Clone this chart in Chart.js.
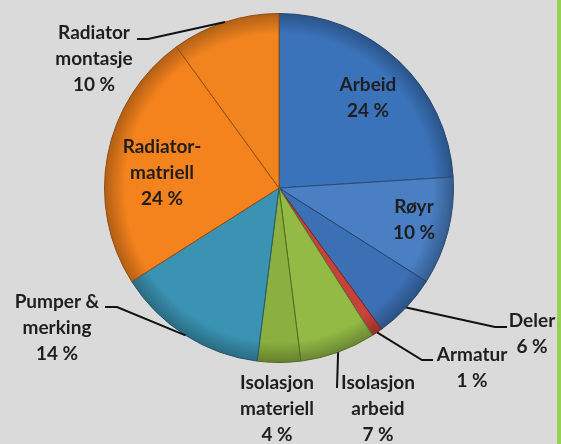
<!DOCTYPE html>
<html>
<head>
<meta charset="utf-8">
<script src="https://cdn.jsdelivr.net/npm/chart.js@4.4.0/dist/chart.umd.min.js"></script>
<style>
  html, body { margin: 0; padding: 0; background: #dadada; }
  canvas { display: block; }
</style>
</head>
<body>
<canvas id="myChart" width="561" height="444"></canvas>
<script>
const categories = ['Arbeid', 'Røyr', 'Deler', 'Armatur', 'Isolasjon arbeid',
    'Isolasjon materiell', 'Pumper & merking', 'Radiator-matriell', 'Radiator montasje'];
const values = [24, 10, 6, 1, 7, 4, 14, 24, 10];

const colors = ['#3b73bb', '#4a7fc3', '#3c70b5', '#c8413a', '#93ba45',
    '#8cb03f', '#3a93b3', '#f4821d', '#f2841f'];

// where each label sits (first line centre) and its leader line, if any
const labelLayout = [
    { x: 368, y: 85 },
    { x: 414, y: 207 },
    { x: 532, y: 321, elbow: [495, 327], end: [507, 327] },
    { x: 472, y: 355, elbow: [422, 360], end: [433, 360] },
    { x: 378, y: 383, elbow: [337, 388], end: [337, 388] },
    { x: 277, y: 383 },
    { x: 57, y: 302, elbow: [117, 307], end: [105, 307] },
    { x: 162, y: 147 },
    { x: 94, y: 33, elbow: [148, 39], end: [137, 39] },
];

function shade(hex, f) {
    const n = parseInt(hex.slice(1), 16);
    const r = (n >> 16) & 255, g = (n >> 8) & 255, b = n & 255;
    return `rgb(${Math.round(r * f)}, ${Math.round(g * f)}, ${Math.round(b * f)})`;
}

function splitName(name) {
    const dash = name.indexOf('-');
    if (dash > 0) return [name.slice(0, dash + 1), name.slice(dash + 1)];
    const sp = name.lastIndexOf(' ');
    if (sp > 0) return [name.slice(0, sp), name.slice(sp + 1)];
    return [name];
}

const backdrop = {
    id: 'backdrop',
    beforeDraw(chart) {
        const ctx = chart.ctx;
        ctx.save();
        ctx.fillStyle = '#dadada';
        ctx.fillRect(0, 0, chart.width, chart.height);
        ctx.fillStyle = '#96d152';
        ctx.fillRect(chart.width - 4, 0, 4, chart.height);
        ctx.restore();
    }
};

const sliceLabels = {
    id: 'sliceLabels',
    afterDatasetsDraw(chart) {
        const ctx = chart.ctx;
        const meta = chart.getDatasetMeta(0);
        ctx.save();
        ctx.font = 'bold 19px Lato';
        ctx.fillStyle = '#1e1e1e';
        ctx.textAlign = 'center';
        ctx.textBaseline = 'middle';
        meta.data.forEach((arc, i) => {
            const p = arc.getProps(['x', 'y', 'startAngle', 'endAngle', 'outerRadius'], true);
            const lay = labelLayout[i];
            if (lay.elbow) {
                const mid = (p.startAngle + p.endAngle) / 2;
                ctx.beginPath();
                ctx.moveTo(p.x + Math.cos(mid) * p.outerRadius, p.y + Math.sin(mid) * p.outerRadius);
                ctx.lineTo(lay.elbow[0], lay.elbow[1]);
                ctx.lineTo(lay.end[0], lay.end[1]);
                ctx.lineWidth = 2;
                ctx.strokeStyle = '#111';
                ctx.stroke();
            }
            const lines = splitName(categories[i]).concat([values[i] + ' %']);
            lines.forEach((t, k) => ctx.fillText(t, lay.x, lay.y + k * 26));
        });
        ctx.restore();
    }
};

const data = {
    labels: categories,
    datasets: [{
        data: values,
        backgroundColor(c) {
            const base = colors[c.dataIndex];
            const area = c.chart.chartArea;
            if (!area) return base;
            const cx = (area.left + area.right) / 2, cy = (area.top + area.bottom) / 2;
            const r = Math.min(area.width, area.height) / 2;
            const g = c.chart.ctx.createRadialGradient(cx, cy, 0, cx, cy, r);
            g.addColorStop(0, base);
            g.addColorStop(0.88, base);
            g.addColorStop(1, shade(base, 0.72));
            return g;
        },
        borderColor: colors.map(c => shade(c, 0.6)),
        borderWidth: 1,
    }]
};

const config = {
    type: 'pie',
    data: data,
    options: {
        responsive: false,
        animation: false,
        layout: { padding: { left: 104, right: 107, top: 13, bottom: 81 } },
        plugins: {
            legend: { display: false },
            tooltip: { enabled: false },
        }
    },
    plugins: [backdrop, sliceLabels]
};

const myChart = new Chart(document.getElementById('myChart'), config);
</script>
</body>
</html>
